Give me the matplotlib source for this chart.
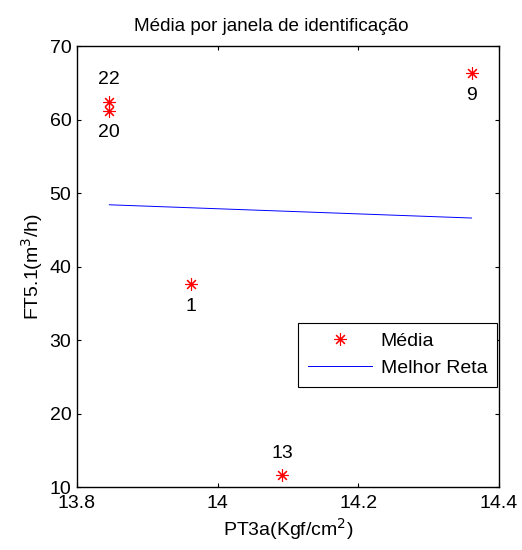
import matplotlib
matplotlib.use("Agg")
import matplotlib.pyplot as plt

plt.rcParams['font.family'] = ['Liberation Sans', 'DejaVu Sans']

# pontos médios por janela
janelas = ['22', '20', '9', '1', '13']
pt3a = [13.846, 13.846, 14.361, 13.962, 14.092]
ft51 = [62.4, 61.2, 66.3, 37.6, 11.6]
posicao = ['acima', 'abaixo', 'abaixo', 'abaixo', 'acima']

# melhor reta (extremos)
reta_x = [13.846, 14.361]
reta_y = [48.4, 46.6]

fig = plt.figure(figsize=(5.22, 5.5), dpi=100)
ax = fig.add_axes([0.1475, 0.1145, 0.8084, 0.8018])

ax.plot(pt3a, ft51, linestyle='none', marker=(8, 2, 0), color='red',
        markersize=9, markeredgewidth=0.8, label='Média')
ax.plot(reta_x, reta_y, color='blue', linewidth=0.7, label='Melhor Reta')

for nome, x, y, pos in zip(janelas, pt3a, ft51, posicao):
    dy = 16 if pos == 'acima' else -16
    ax.annotate(nome, (x, y), xytext=(0, dy), textcoords='offset points',
                ha='center', va='center', fontsize=14)

ax.set_xlim(13.8, 14.4)
ax.set_ylim(10, 70)
ax.set_xticks([13.8, 14, 14.2, 14.4])
ax.set_xticklabels(['13.8', '14', '14.2', '14.4'])
ax.set_yticks([10, 20, 30, 40, 50, 60, 70])
ax.tick_params(direction='in', labelsize=14, top=True, right=True,
               length=3, width=0.8)
ax.tick_params(axis='x', pad=6)
ax.tick_params(axis='y', pad=4)
for s in ax.spines.values():
    s.set_linewidth(1.0)

ax.set_title('Média por janela de identificação', fontsize=13.6, pad=11, x=0.46)
ax.set_xlabel('PT3a(Kgf/cm$^2$)', fontsize=14, labelpad=3)
ax.set_ylabel('FT5.1(m$^3$/h)', fontsize=14, labelpad=3)

leg = ax.legend(loc='lower right', bbox_to_anchor=(0.995, 0.227), fontsize=14,
                fancybox=False, framealpha=1, edgecolor='black',
                borderaxespad=0, handlelength=3.3, handletextpad=0.45,
                borderpad=0.5, labelspacing=0.5)
leg.get_frame().set_linewidth(0.8)

fig.savefig('out.png', dpi=100)
